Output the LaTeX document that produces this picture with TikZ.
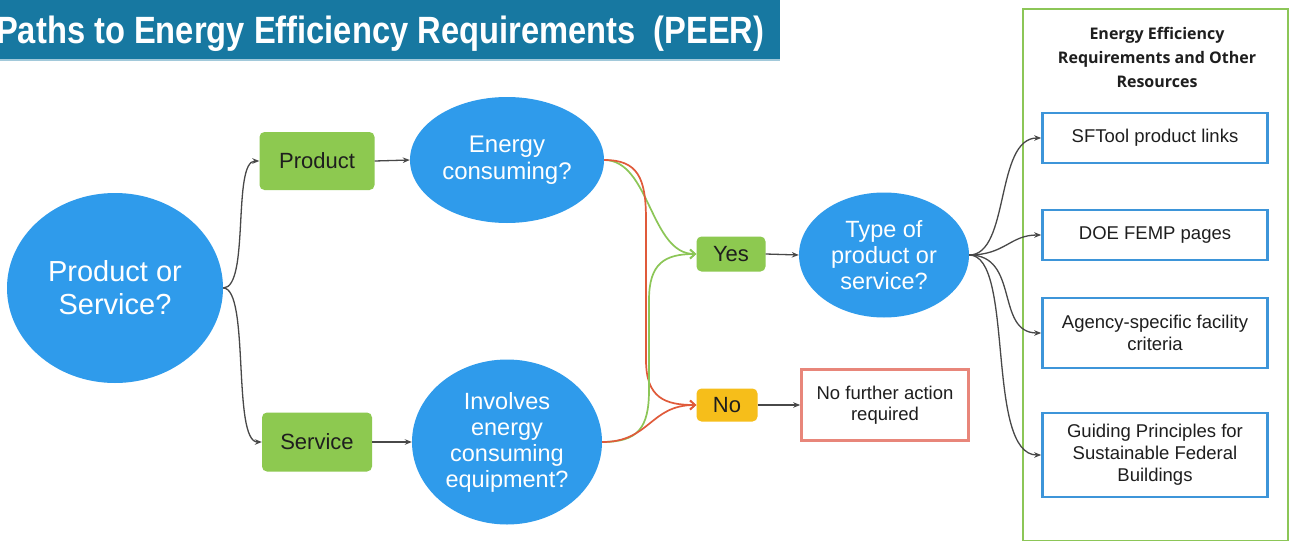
\documentclass[tikz,border=0pt]{standalone}
\usepackage{fontspec}
\setmainfont{Liberation Sans}
\newfontfamily\titlefont[FakeStretch=0.86]{Liberation Sans}
\newfontfamily\headfont{Open Sans}
\usetikzlibrary{arrows.meta,shapes.geometric}
\definecolor{bluefill}{HTML}{2F9BEB}
\definecolor{greenfill}{HTML}{8DC950}
\definecolor{yellowfill}{HTML}{F6BE1A}
\definecolor{redline}{HTML}{E8867A}
\definecolor{blueline}{HTML}{3D95D9}
\definecolor{panelgreen}{HTML}{8CC657}
\definecolor{titlebar}{HTML}{1778A1}
\definecolor{arrowgray}{HTML}{484848}
\definecolor{curvegreen}{HTML}{8CC657}
\definecolor{curvered}{HTML}{E05A3A}
\definecolor{txt}{HTML}{1E1E1E}
\tikzset{
  ell/.style={ellipse, fill=bluefill, text=white, align=center, inner sep=0pt},
  gbox/.style={rounded corners=5pt, fill=greenfill, text=txt, inner sep=0pt, font=\fontsize{22}{26}\selectfont},
  resbox/.style={draw=blueline, line width=2.6pt, fill=white, align=center, inner sep=0pt, text=txt, font=\fontsize{18.5}{22}\selectfont},
  conn/.style={draw=arrowgray, line width=1.3pt, -{Stealth[length=7pt,width=5.5pt]}},
  gconn/.style={draw=curvegreen, line width=1.7pt, -{Straight Barb[length=5pt,width=9pt]}},
  rconn/.style={draw=curvered, line width=1.7pt, -{Straight Barb[length=5pt,width=9pt]}},
}
\begin{document}
\begin{tikzpicture}[x=1pt,y=-1pt]
\useasboundingbox (0,0) rectangle (1291,541);
\fill[white] (0,0) rectangle (1291,541);
% title
\fill[titlebar] (0,0) rectangle (780,59);
\draw[titlebar!40, line width=1.5pt] (0,60) -- (780,60);
\node[anchor=base west, text=white, inner sep=0pt, font=\titlefont\bfseries\fontsize{38}{40}\selectfont] (title) at (-4,43) {Paths to Energy Efficiency Requirements\ \ (PEER)};
% right panel
\draw[panelgreen, line width=2.6pt] (1023,9) rectangle (1288,541);
\node[align=center, font=\headfont\bfseries\fontsize{16}{24}\selectfont, text=txt] (head) at (1157,57) {Energy Efficiency\\Requirements and Other\\Resources};
% nodes
\node[ell, minimum width=216pt, minimum height=190pt, font=\fontsize{29}{33}\selectfont] (ps) at (115,288) {Product or\\Service?};
\node[gbox, minimum width=115pt, minimum height=58pt] (prod) at (317,161) {Product};
\node[gbox, minimum width=110pt, minimum height=59pt] (serv) at (317,442) {Service};
\node[ell, minimum width=194pt, minimum height=126pt, font=\fontsize{24}{27}\selectfont] (ec) at (507,160) {Energy\\consuming?};
\node[ell, minimum width=190pt, minimum height=165pt, font=\fontsize{23.5}{26}\selectfont] (inv) at (507,442) {Involves\\energy\\consuming\\equipment?};
\node[gbox, minimum width=69pt, minimum height=35pt] (yes) at (731,254) {Yes};
\node[rounded corners=5pt, fill=yellowfill, text=txt, inner sep=0pt, font=\fontsize{22}{26}\selectfont, minimum width=61pt, minimum height=33pt] (no) at (727,405) {No};
\node[ell, minimum width=170pt, minimum height=125pt, font=\fontsize{23.5}{26}\selectfont] (type) at (884,255) {Type of\\product or\\service?};
\node[draw=redline, line width=2.6pt, fill=white, align=center, inner sep=0pt, text=txt, font=\fontsize{18.5}{21}\selectfont, minimum width=167pt, minimum height=71pt] (nfa) at (885,405) {No further action\\required};
\node[resbox, minimum width=225pt, minimum height=50pt] (sf) at (1155,138) {SFTool product links};
\node[resbox, minimum width=225pt, minimum height=50pt] (doe) at (1155,235) {DOE FEMP pages};
\node[resbox, minimum width=225pt, minimum height=70pt] (ag) at (1155,333) {Agency-specific facility\\criteria};
\node[resbox, minimum width=225pt, minimum height=84pt] (gp) at (1155,455) {Guiding Principles for\\Sustainable Federal\\Buildings};
% connectors
\draw[conn] (ps.east) .. controls (250,288) and (232,161) .. (prod.west);
\draw[conn] (ps.east) .. controls (250,288) and (232,442) .. (serv.west);
\draw[conn] (prod.east) -- (ec.west);
\draw[conn] (serv.east) -- (inv.west);
\draw[gconn] (ec.east) .. controls (650,160) and (650,254) .. (yes.west);
\draw[rconn] (ec.east) .. controls (638,160) and (646,178) .. (646,220) -- (646,360) .. controls (646,398) and (665,405) .. (no.west);
\draw[gconn] (inv.east) .. controls (638,442) and (649,428) .. (649,390) -- (649,300) .. controls (649,263) and (665,254) .. (yes.west);
\draw[rconn] (inv.east) .. controls (650,442) and (650,405) .. (no.west);
\draw[conn] (yes.east) -- (type.west);
\draw[conn] (no.east) -- (nfa.west);
\draw[conn] (type.east) .. controls (1010,255) and (995,138) .. (sf.west);
\draw[conn] (type.east) .. controls (1005,255) and (1010,235) .. (doe.west);
\draw[conn] (type.east) .. controls (1020,255) and (995,333) .. (ag.west);
\draw[conn] (type.east) .. controls (1015,255) and (985,455) .. (gp.west);
\end{tikzpicture}
\end{document}
